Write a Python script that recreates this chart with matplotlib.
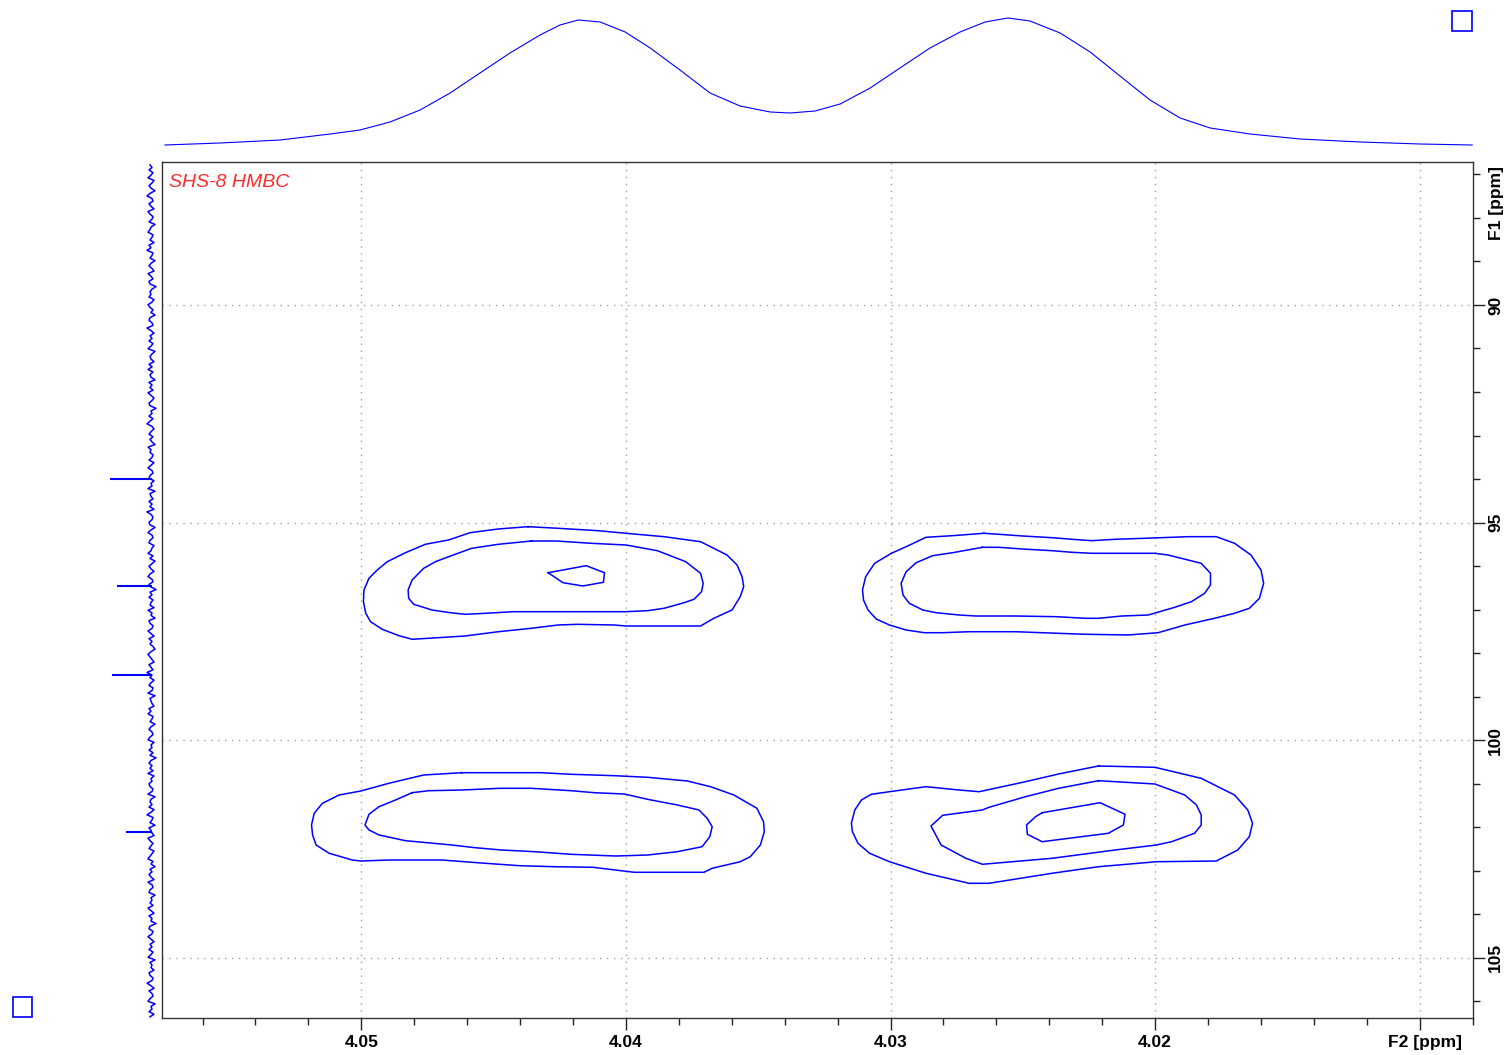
import matplotlib.pyplot as plt
import numpy as np
from matplotlib.patches import Rectangle
from matplotlib.transforms import ScaledTranslation

plt.rcParams['font.family'] = ['Liberation Sans', 'DejaVu Sans']

# ---- 2D contour levels (F2 ppm, F1 ppm) ----
c1_outer = [(4.04370, 95.095), (4.04257, 95.132), (4.04106, 95.187), (4.04000, 95.247),
            (4.03856, 95.325), (4.03718, 95.440), (4.03618, 95.746), (4.03580, 95.976),
            (4.03561, 96.245), (4.03555, 96.474), (4.03568, 96.704), (4.03599, 97.010),
            (4.03668, 97.201), (4.03718, 97.378), (4.03856, 97.378), (4.04000, 97.378),
            (4.04044, 97.355), (4.04182, 97.339), (4.04257, 97.355), (4.04357, 97.430),
            (4.04482, 97.509), (4.04608, 97.607), (4.04708, 97.646), (4.04808, 97.683),
            (4.04858, 97.600), (4.04921, 97.453), (4.04965, 97.279), (4.04983, 97.086),
            (4.04992, 96.819), (4.04990, 96.550), (4.04971, 96.281), (4.04940, 96.091),
            (4.04902, 95.900), (4.04833, 95.693), (4.04758, 95.500), (4.04670, 95.401),
            (4.04589, 95.233), (4.04482, 95.148)]
c1_inner = [(4.04357, 95.424), (4.04263, 95.424), (4.04132, 95.477), (4.04000, 95.516),
            (4.03881, 95.647), (4.03774, 95.900), (4.03718, 96.166), (4.03708, 96.396),
            (4.03714, 96.589), (4.03743, 96.764), (4.03780, 96.842), (4.03856, 96.971),
            (4.03918, 97.026), (4.04000, 97.049), (4.04106, 97.049), (4.04257, 97.049),
            (4.04426, 97.049), (4.04532, 97.086), (4.04608, 97.109), (4.04664, 97.072),
            (4.04733, 97.010), (4.04802, 96.879), (4.04821, 96.741), (4.04823, 96.550),
            (4.04808, 96.320), (4.04764, 96.051), (4.04720, 95.900), (4.04670, 95.785),
            (4.04583, 95.592), (4.04482, 95.500)]
c1_core = [(4.04294, 96.153), (4.04150, 95.992), (4.04081, 96.153), (4.04085, 96.373),
           (4.04163, 96.458), (4.04238, 96.382)]

c2_outer = [(4.02647, 95.247), (4.02590, 95.270), (4.02502, 95.309), (4.02390, 95.348),
            (4.02314, 95.385), (4.02239, 95.417), (4.02152, 95.385), (4.02039, 95.362),
            (4.01876, 95.325), (4.01769, 95.325), (4.01700, 95.477), (4.01638, 95.746),
            (4.01600, 96.091), (4.01590, 96.396), (4.01606, 96.741), (4.01644, 96.971),
            (4.01700, 97.086), (4.01776, 97.201), (4.01888, 97.355), (4.01989, 97.532),
            (4.02102, 97.584), (4.02264, 97.568), (4.02371, 97.545), (4.02527, 97.509),
            (4.02703, 97.509), (4.02803, 97.532), (4.02872, 97.532), (4.02941, 97.470),
            (4.03004, 97.355), (4.03054, 97.217), (4.03085, 97.010), (4.03102, 96.780),
            (4.03106, 96.550), (4.03094, 96.245), (4.03060, 95.937), (4.02997, 95.707),
            (4.02941, 95.555), (4.02866, 95.339), (4.02765, 95.302)]
c2_inner = [(4.02653, 95.569), (4.02590, 95.569), (4.02502, 95.608), (4.02390, 95.647),
            (4.02314, 95.684), (4.02239, 95.707), (4.02001, 95.707), (4.01951, 95.746),
            (4.01826, 95.937), (4.01791, 96.166), (4.01791, 96.435), (4.01813, 96.626),
            (4.01863, 96.819), (4.01926, 96.948), (4.02026, 97.125), (4.02126, 97.148),
            (4.02214, 97.201), (4.02264, 97.201), (4.02371, 97.164), (4.02527, 97.148),
            (4.02678, 97.148), (4.02741, 97.125), (4.02828, 97.072), (4.02878, 97.010),
            (4.02929, 96.856), (4.02953, 96.665), (4.02960, 96.396), (4.02941, 96.130),
            (4.02903, 95.923), (4.02841, 95.762), (4.02765, 95.693)]

c3_outer = [(4.04620, 100.749), (4.04320, 100.749), (4.04207, 100.786), (4.04044, 100.818),
            (4.03918, 100.855), (4.03768, 100.940), (4.03680, 101.071), (4.03592, 101.262),
            (4.03505, 101.567), (4.03480, 101.875), (4.03477, 102.105), (4.03492, 102.411),
            (4.03530, 102.680), (4.03568, 102.795), (4.03674, 102.946), (4.03705, 103.038),
            (4.03968, 103.038), (4.04019, 103.001), (4.04125, 102.923), (4.04269, 102.910),
            (4.04401, 102.887), (4.04532, 102.831), (4.04695, 102.756), (4.04896, 102.756),
            (4.05002, 102.779), (4.05034, 102.756), (4.05121, 102.602), (4.05171, 102.411),
            (4.05184, 102.181), (4.05188, 101.951), (4.05178, 101.682), (4.05147, 101.453),
            (4.05084, 101.262), (4.05002, 101.170), (4.04896, 100.993), (4.04764, 100.802)]
c3_inner = [(4.04808, 101.209), (4.04745, 101.163), (4.04620, 101.147), (4.04476, 101.108),
            (4.04357, 101.108), (4.04207, 101.163), (4.04119, 101.209), (4.04006, 101.239),
            (4.03918, 101.361), (4.03806, 101.491), (4.03724, 101.606), (4.03693, 101.797),
            (4.03674, 101.990), (4.03683, 102.220), (4.03712, 102.450), (4.03806, 102.565),
            (4.03918, 102.641), (4.04038, 102.664), (4.04207, 102.625), (4.04344, 102.565),
            (4.04470, 102.526), (4.04570, 102.473), (4.04658, 102.411), (4.04833, 102.312),
            (4.04933, 102.181), (4.04971, 102.066), (4.04986, 101.951), (4.04971, 101.705),
            (4.04933, 101.531), (4.04871, 101.377)]

c4_outer = [(4.02214, 100.595), (4.02001, 100.625), (4.01826, 100.878), (4.01700, 101.262),
            (4.01650, 101.606), (4.01632, 101.912), (4.01644, 102.220), (4.01688, 102.526),
            (4.01769, 102.779), (4.01995, 102.795), (4.02214, 102.910), (4.02390, 103.061),
            (4.02628, 103.291), (4.02703, 103.291), (4.02866, 103.061), (4.03004, 102.795),
            (4.03079, 102.602), (4.03123, 102.372), (4.03144, 102.105), (4.03148, 101.912),
            (4.03135, 101.606), (4.03110, 101.377), (4.03073, 101.246), (4.03004, 101.186),
            (4.02866, 101.071), (4.02741, 101.147), (4.02665, 101.186), (4.02490, 100.956),
            (4.02365, 100.779)]
c4_inner = [(4.02214, 100.933), (4.02001, 101.009), (4.01888, 101.262), (4.01844, 101.491),
            (4.01826, 101.721), (4.01826, 101.951), (4.01851, 102.142), (4.01938, 102.335),
            (4.01995, 102.411), (4.02152, 102.526), (4.02390, 102.717), (4.02653, 102.854),
            (4.02715, 102.717), (4.02809, 102.411), (4.02847, 101.974), (4.02803, 101.728),
            (4.02653, 101.606), (4.02628, 101.545), (4.02490, 101.301), (4.02365, 101.108)]
c4_core = [(4.02427, 101.669), (4.02208, 101.439), (4.02114, 101.705), (4.02120, 101.951),
           (4.02177, 102.142), (4.02427, 102.335), (4.02483, 102.165), (4.02486, 101.951),
           (4.02452, 101.760)]

contours = [c1_outer, c1_inner, c1_core, c2_outer, c2_inner,
            c3_outer, c3_inner, c4_outer, c4_inner, c4_core]

# ---- F2 projection (top) ----
top_f2 = [4.05742, 4.05535, 4.05309, 4.05121, 4.05009, 4.04896, 4.04783, 4.04670,
          4.04558, 4.04445, 4.04332, 4.04257, 4.04189, 4.04106, 4.04012, 4.03918,
          4.03806, 4.03693, 4.03580, 4.03467, 4.03392, 4.03298, 4.03204, 4.03091,
          4.02979, 4.02866, 4.02753, 4.02659, 4.02573, 4.02490, 4.02377, 4.02264,
          4.02152, 4.02039, 4.01926, 4.01813, 4.01663, 4.01475, 4.01249, 4.01024,
          4.00828]
top_int = [1, 3, 6, 12, 16, 24, 36, 53, 73, 93, 111, 121, 126, 124, 114, 98,
           76, 53, 40, 34, 33, 35, 42, 58, 78, 98, 114, 124, 128, 125, 113, 94,
           70, 46, 28, 18, 12, 7, 4, 2, 1]

# ---- F1 projection (left): baseline noise and the sharp peaks ----
left_noise = [2, 0, 3, -1, 1, 4, -2, 0, 3, 1, -3, 2, 5, 0, -1, 3, 1, -2, 4, 2,
              -1, 0, 3, -3, 1, 2, 4, -1, 0, 2, -2, 3, 1, 5, -1, 0, 2, -3, 1, 3,
              0, -2, 4, 1, -1, 3, 2, -4, 0, 2, 1, 3, -2, 0, 4, 2, -1, 1, -3, 2,
              3, 0, -1, 5, 1, -2, 2, 0, 3, -1, 1, 4, -3, 0, 2, 1, -2, 3, 0, 4,
              -1, 2, 1, -3, 3, 0, 2, -1, 4, 1, -2, 0, 3, 2, -4, 1, 0, 3, -1, 2,
              5, 0, -2, 1, 3, -1, 2, 0, -3, 4, 1, 2, -1, 0, 3, -2, 1, 4, 0, -1,
              2, 3, -2, 1, 0, 4, -3, 2, 1, -1, 3, 0, 2, -2, 5, 1, -1, 0, 3, 2,
              -3, 1, 4, 0, -1, 2, 3, -2, 0, 1, 4, -1, 2, -3, 0, 3, 1, -2, 2, 4,
              0, -1, 3, 1, -4, 2, 0, 3, -1, 1, 2, -2, 4, 0, 1, -3, 3, 2, -1, 0,
              4, 1, -2, 3, 0, 2, -1, -3, 1, 4, 2, 0, -2, 3, 1, -1, 5, 0, 2, -2,
              1, 3, -1, 0, 4, -3, 2, 1, 0, -2, 3, 1, 4, -1, 0, 2, -3, 1, 3, 0,
              -1, 2, 4, -2, 1, 0, 3, -1, 2, -4, 1, 3, 0, 2, -1, 4, -2, 1, 0, 3,
              2, -1, 0, 4, -3, 1, 2, 0, 3, -2, 1, 5, -1, 0, 2, -3, 3, 1, 0, -2,
              4, 2, -1, 1, 3, -2, 0, 2, 4, -1, 1, -3, 2, 0, 3, 1, -2, 4, 0, -1,
              2, 3, -3, 1, 0, 2, -1, 4, 1, -2, 3, 0, 1, -4, 2, 3, -1, 0, 4, 1,
              -2, 2, 0, 3, -1, 1, 4, -3, 2, 0, 1, -2, 3, 2, -1, 0, 5, 1, -2, 3,
              0, -1, 2, 4, -3, 1, 0, 3, -2, 2]
spike_f1 = [94.01, 96.46, 98.50, 102.11]
spike_int = [42, 35, 40, 26]

xticks = [4.05, 4.04, 4.03, 4.02, 4.01]
xlabels = ['4.05', '4.04', '4.03', '4.02', 'F2 [ppm]']
yticks = [90, 95, 100, 105]

W, H = 1512, 1055
fig = plt.figure(figsize=(15.12, 10.55), dpi=100)
blue = '#0000ff'

ax = fig.add_axes([162.3 / W, 1 - 1017.7 / H, 1310.4 / W, 856 / H])
ax_top = fig.add_axes([162.3 / W, 1 - 155 / H, 1310.4 / W, 145 / H])
ax_left = fig.add_axes([100 / W, 1 - 1017.7 / H, 60 / W, 856 / H])

for c in contours:
    xs = [p[0] for p in c] + [c[0][0]]
    ys = [p[1] for p in c] + [c[0][1]]
    ax.plot(xs, ys, color=blue, lw=1.1, zorder=3)

ax.set_xlim(4.05752, 4.00826)
ax.set_ylim(106.38, 86.707)
ax.set_xticks(xticks)
ax.set_xticklabels(xlabels)
ax.set_xticks(np.arange(4.008, 4.058, 0.002), minor=True)
ax.set_yticks(yticks)
ax.set_yticks(np.arange(87, 107, 1), minor=True)
ax.yaxis.tick_right()
ax.tick_params(axis='both', which='major', direction='out', length=8.5, width=1,
               labelsize=12.5, color='#222222')
ax.tick_params(axis='both', which='minor', direction='out', length=5, width=1,
               color='#222222')
ax.tick_params(axis='x', pad=4)
ax.tick_params(axis='y', labelrotation=90, pad=2.5)
for lab in ax.get_xticklabels() + ax.get_yticklabels():
    lab.set_fontweight('bold')
for lab in ax.get_yticklabels():
    lab.set_va('center')
xl = ax.get_xticklabels()[-1]
xl.set_transform(xl.get_transform() + ScaledTranslation(0.05, 0, fig.dpi_scale_trans))
ax.grid(True, which='major', color='#a0a0a0', linestyle=(0, (1, 4)), lw=1.0)
ax.set_axisbelow(True)
for s in ax.spines.values():
    s.set_color('#333333')
    s.set_linewidth(1.0)

ax.text(0.0051, 0.9708, 'SHS-8 HMBC', transform=ax.transAxes, color='#ff2a2a',
        fontsize=14, fontstyle='italic', va='baseline', ha='left')
fig.text(1497 / W, 1 - 202.5 / H, 'F1 [ppm]', rotation=90, ha='center', va='center',
         fontsize=12.5, fontweight='bold')

ax_top.plot(top_f2, top_int, color=blue, lw=0.8)
ax_top.set_xlim(4.05752, 4.00826)
ax_top.set_ylim(-9, 136)
ax_top.axis('off')

f1_grid = np.linspace(86.78, 106.36, len(left_noise))
ax_left.plot(left_noise, f1_grid, color=blue, lw=1.1)
ax_left.hlines(spike_f1, 0, spike_int, color=blue, lw=1.5)
ax_left.set_xlim(52, -8)
ax_left.set_ylim(106.38, 86.707)
ax_left.axis('off')

for (x0, y0) in [(1452.3, 31), (12.7, 1016.7)]:
    fig.add_artist(Rectangle((x0 / W, 1 - y0 / H), 19.4 / W, 19.5 / H,
                             transform=fig.transFigure, fill=False,
                             ec=blue, lw=1.2))

fig.savefig('out.png', dpi=100)
